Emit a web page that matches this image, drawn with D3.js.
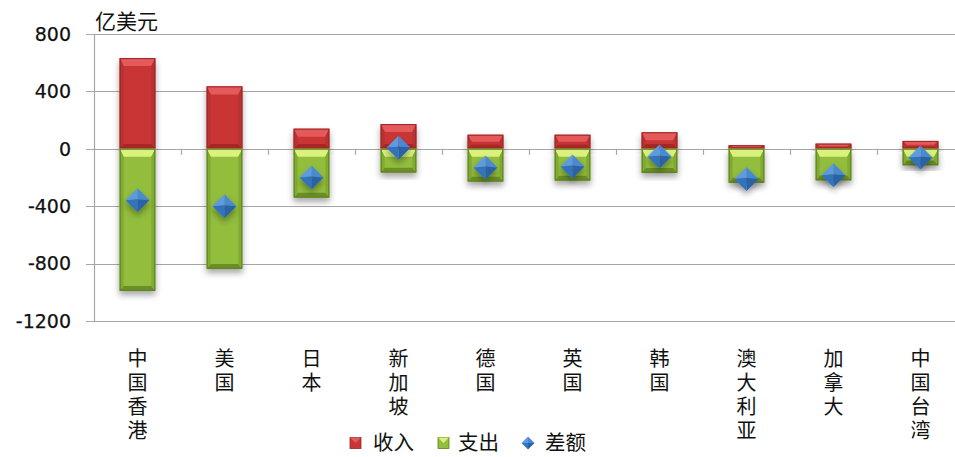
<!DOCTYPE html>
<html>
<head>
<meta charset="utf-8">
<script src="https://cdn.jsdelivr.net/npm/d3@7"></script>
<style>
  html, body { margin: 0; padding: 0; background: #fff; }
  svg { display: block; }
  .vlabel { writing-mode: vertical-rl; text-orientation: upright; }
</style>
</head>
<body>
<svg id="chart" width="955" height="457"></svg>
<script>
const categories = ["中国香港", "美国", "日本", "新加坡", "德国", "英国", "韩国", "澳大利亚", "加拿大", "中国台湾"];
const income = [632, 435, 140, 172, 98, 98, 115, 25, 36, 55];
const expenditure = [990, 836, 340, 165, 228, 221, 168, 236, 220, 115];
const balance = [-358, -401, -200, 7, -130, -123, -53, -211, -184, -60];
const yTicks = [800, 400, 0, -400, -800, -1200];
const yUnit = "亿美元";
const legendLabels = ["收入", "支出", "差额"];

const svg = d3.select("#chart");
const plot = { left: 94, right: 964, top: 34, bottom: 321 };

const x = d3.scaleBand().domain(categories).range([plot.left, plot.right]).padding(0);
const y = d3.scaleLinear().domain([-1200, 800]).range([plot.bottom, plot.top]);
const barW = x.bandwidth() * 0.41;

const defs = svg.append("defs");
const f = defs.append("filter").attr("id", "shadow").attr("x", "-30%").attr("y", "-30%").attr("width", "160%").attr("height", "160%");
f.append("feDropShadow").attr("dx", 0).attr("dy", 4).attr("stdDeviation", 3).attr("flood-color", "#000").attr("flood-opacity", 0.35);

// gridlines
const grid = svg.append("g");
grid.selectAll("line").data(yTicks).join("line")
  .attr("x1", plot.left - 8).attr("x2", 955)
  .attr("y1", d => Math.round(y(d)) + 0.5).attr("y2", d => Math.round(y(d)) + 0.5)
  .attr("stroke", "#a6a6a6").attr("stroke-width", 1.2);

// y axis line
svg.append("line")
  .attr("x1", plot.left + 0.5).attr("x2", plot.left + 0.5)
  .attr("y1", y(800)).attr("y2", y(-1200))
  .attr("stroke", "#a6a6a6").attr("stroke-width", 1.2);

// x axis ticks at category boundaries on zero line
const boundaries = categories.slice(1).map(c => x(c));
svg.append("g").selectAll("line").data(boundaries).join("line")
  .attr("x1", d => Math.round(d) + 0.5).attr("x2", d => Math.round(d) + 0.5)
  .attr("y1", y(0)).attr("y2", y(0) + 6)
  .attr("stroke", "#a6a6a6").attr("stroke-width", 1.2);

// y tick labels
svg.append("g").selectAll("text").data(yTicks).join("text")
  .attr("x", 71).attr("y", d => y(d))
  .attr("dy", "0.36em")
  .attr("text-anchor", "end")
  .attr("font-family", "DejaVu Sans, sans-serif")
  .attr("font-size", 19)
  .attr("fill", "#111")
  .attr("stroke", "#111").attr("stroke-width", 0.25)
  .text(d => d);

svg.append("text")
  .attr("x", 95).attr("y", 29)
  .attr("font-family", "Noto Sans CJK SC, sans-serif")
  .attr("font-size", 21)
  .attr("fill", "#111")
  .text(yUnit);

function bevelBar(g, x0, y0, x1, y1, c) {
  const w = x1 - x0, h = y1 - y0;
  const bt = Math.min(8, h / 2), bs = Math.min(4, w / 2);
  const gg = g.append("g").attr("filter", "url(#shadow)");
  gg.append("rect").attr("x", x0).attr("y", y0).attr("width", w).attr("height", h).attr("fill", c.main);
  const poly = (pts, fill) => gg.append("polygon").attr("points", pts.map(p => p.join(",")).join(" ")).attr("fill", fill);
  poly([[x0, y0], [x1, y0], [x1 - bs, y0 + bt], [x0 + bs, y0 + bt]], c.top);
  poly([[x0, y1], [x1, y1], [x1 - bs, y1 - bt * 0.6], [x0 + bs, y1 - bt * 0.6]], c.bottom);
  poly([[x0, y0], [x0 + bs, y0 + bt], [x0 + bs, y1 - bt * 0.6], [x0, y1]], c.side);
  poly([[x1, y0], [x1 - bs, y0 + bt], [x1 - bs, y1 - bt * 0.6], [x1, y1]], c.side);
  gg.append("rect").attr("x", x0 + 0.5).attr("y", y0 + 0.5).attr("width", w - 1).attr("height", Math.max(0, h - 1))
    .attr("fill", "none").attr("stroke", c.edge).attr("stroke-width", 1);
}

const red = { main: "#c93636", top: "#e45a5a", bottom: "#a82828", side: "#b83030", edge: "#9a2626" };
const green = { main: "#92bd3e", top: "#d9f27e", bottom: "#6b8f28", side: "#82ab33", edge: "#5e7f22" };

const bars = svg.append("g");
categories.forEach((c, i) => {
  const cx = x(c) + x.bandwidth() / 2;
  const x0 = cx - barW / 2, x1 = cx + barW / 2;
  bevelBar(bars, x0, y(income[i]), x1, y(0), red);
  bevelBar(bars, x0, y(0), x1, y(-expenditure[i]), green);
});

// diamonds
const dia = svg.append("g");
const r = 12;
categories.forEach((c, i) => {
  const cx = x(c) + x.bandwidth() / 2;
  const cy = y(balance[i]);
  const g = dia.append("g").attr("filter", "url(#shadow)");
  const p = (pts, fill) => g.append("polygon").attr("points", pts.map(q => q.join(",")).join(" ")).attr("fill", fill);
  const T = [cx, cy - r], B = [cx, cy + r], L = [cx - r, cy], R = [cx + r, cy], C = [cx, cy - 1];
  p([L, T, C], "#5d9ae0");
  p([T, R, C], "#4a88d4");
  p([L, C, B], "#3373c0");
  p([C, R, B], "#2a62a8");
});

// x category labels (vertical, upright characters)
svg.append("g").selectAll("text").data(categories).join("text")
  .attr("class", "vlabel")
  .attr("x", d => x(d) + x.bandwidth() / 2)
  .attr("y", 348)
  .attr("font-family", "Noto Sans CJK SC, sans-serif")
  .attr("font-size", 20)
  .attr("letter-spacing", 4.3)
  .attr("fill", "#111")
  .text(d => d);

// legend
const lg = svg.append("g").attr("font-family", "Noto Sans CJK SC, sans-serif").attr("font-size", 20.5).attr("fill", "#111");
const ly = 443;
function legendSquare(x0, c) {
  const s = 11;
  const g = lg.append("g");
  g.append("rect").attr("x", x0).attr("y", ly - s / 2).attr("width", s).attr("height", s).attr("fill", c.main).attr("stroke", c.edge).attr("stroke-width", 0.8);
  g.append("polygon").attr("points", `${x0},${ly - s / 2} ${x0 + s},${ly - s / 2} ${x0 + s / 2},${ly}`).attr("fill", c.top);
}
legendSquare(350, red);
lg.append("text").attr("x", 373).attr("y", ly).attr("dy", "0.36em").text(legendLabels[0]);
legendSquare(438, green);
lg.append("text").attr("x", 458).attr("y", ly).attr("dy", "0.36em").text(legendLabels[1]);
{
  const cx = 528, cy = ly, rr = 6.5;
  const p = (pts, fill) => lg.append("polygon").attr("points", pts.map(q => q.join(",")).join(" ")).attr("fill", fill);
  p([[cx - rr, cy], [cx, cy - rr], [cx, cy]], "#5d9ae0");
  p([[cx, cy - rr], [cx + rr, cy], [cx, cy]], "#4a88d4");
  p([[cx - rr, cy], [cx, cy], [cx, cy + rr]], "#3373c0");
  p([[cx, cy], [cx + rr, cy], [cx, cy + rr]], "#2a62a8");
}
lg.append("text").attr("x", 545).attr("y", ly).attr("dy", "0.36em").text(legendLabels[2]);
</script>
</body>
</html>
